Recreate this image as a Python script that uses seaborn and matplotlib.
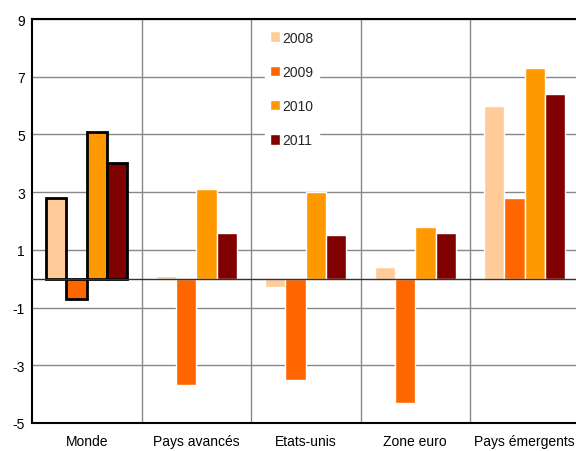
import matplotlib
matplotlib.use("Agg")
import matplotlib.pyplot as plt
import seaborn as sns
import pandas as pd

# Croissance du PIB (%), par zone et par année
zones = ["Monde", "Pays avancés", "Etats-unis", "Zone euro", "Pays émergents"]
annees = ["2008", "2009", "2010", "2011"]
v2008 = [2.8, 0.1, -0.3, 0.4, 6.0]
v2009 = [-0.7, -3.7, -3.5, -4.3, 2.8]
v2010 = [5.1, 3.1, 3.0, 1.8, 7.3]
v2011 = [4.0, 1.6, 1.5, 1.6, 6.4]
couleurs = ["#FFCC99", "#FF6600", "#FF9900", "#800000"]
yticks = [-5, -3, -1, 1, 3, 5, 7, 9]

rows = []
for annee, vals in zip(annees, [v2008, v2009, v2010, v2011]):
    for z, v in zip(zones, vals):
        rows.append({"zone": z, "annee": annee, "valeur": v})
df = pd.DataFrame(rows)

sns.set_theme(style="white")
plt.rcParams["font.family"] = ["Liberation Sans", "DejaVu Sans"]

fig = plt.figure(figsize=(5.76, 4.52), dpi=100)
ax = fig.add_axes([32 / 576, 1 - 424 / 452, 547.5 / 576, 404 / 452])

sns.barplot(data=df, x="zone", y="valeur", hue="annee", order=zones,
            hue_order=annees, palette=couleurs, width=0.74, gap=0,
            saturation=1, errorbar=None, ax=ax, zorder=3)

# Contour noir pour les barres "Monde"
for p in ax.patches:
    if p.get_height() != 0 and p.get_x() + p.get_width() / 2 < 0.5:
        p.set_edgecolor("black")
        p.set_linewidth(2)
        p.set_zorder(4)

ax.set_xlim(-0.5, len(zones) - 0.5)
ax.set_ylim(-5, 9)
ax.set_yticks(yticks)
ax.set_yticklabels([str(t) for t in yticks])

# Quadrillage
for t in yticks:
    ax.axhline(t, color="#888888", lw=1, zorder=1)
for b in [0.5, 1.5, 2.5, 3.5]:
    ax.axvline(b, color="#888888", lw=1, zorder=1)
ax.axhline(0, color="#333333", lw=1, zorder=5)

ax.set_xlabel("")
ax.set_ylabel("")
ax.tick_params(axis="both", length=0, labelsize=10, colors="black")
ax.tick_params(axis="y", pad=5)
ax.tick_params(axis="x", pad=8)

for side in ["top", "left", "bottom"]:
    ax.spines[side].set_color("black")
    ax.spines[side].set_linewidth(1.5)
ax.spines["right"].set_visible(False)

leg = ax.legend(loc="upper left", bbox_to_anchor=(0.425, 0.985), ncol=1,
                frameon=True, facecolor="white", edgecolor="white",
                framealpha=1, fancybox=False, fontsize=10,
                handlelength=0.7, handleheight=0.8, handletextpad=0.2,
                labelspacing=1.45, borderpad=0.4, borderaxespad=0)
leg.set_zorder(6)

fig.savefig("out.png", dpi=100)
